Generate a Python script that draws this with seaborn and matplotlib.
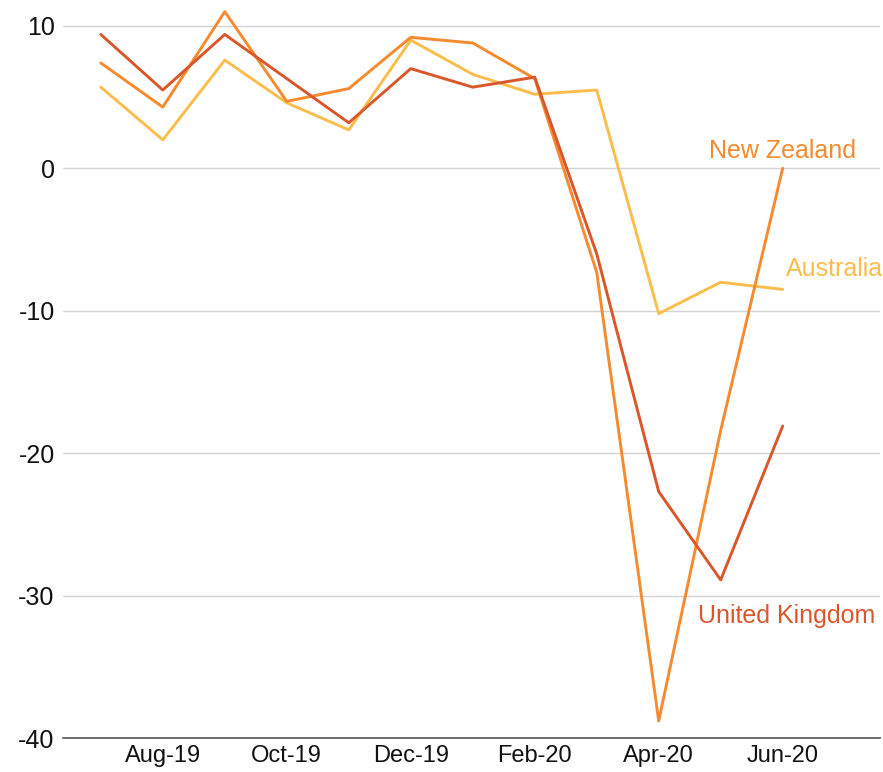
# Monthly change chart: UK, New Zealand, Australia (Jul-19 to Jun-20)
import pandas as pd
import seaborn as sb
import matplotlib.pyplot as plt

months = ['Jul-19', 'Aug-19', 'Sep-19', 'Oct-19', 'Nov-19', 'Dec-19',
          'Jan-20', 'Feb-20', 'Mar-20', 'Apr-20', 'May-20', 'Jun-20']

australia = [5.7, 2.0, 7.6, 4.6, 2.7, 9.0, 6.6, 5.2, 5.5, -10.2, -8.0, -8.5]
new_zealand = [7.4, 4.3, 11.0, 4.7, 5.6, 9.2, 8.8, 6.3, -7.3, -38.8, -18.4, 0.0]
united_kingdom = [9.4, 5.5, 9.4, 6.3, 3.2, 7.0, 5.7, 6.4, -6.0, -22.7, -28.9, -18.1]

tick_months = ['Aug-19', 'Oct-19', 'Dec-19', 'Feb-20', 'Apr-20', 'Jun-20']
y_ticks = [10, 0, -10, -20, -30, -40]

colors = {'Australia': '#fdbd4c', 'New Zealand': '#f58a2f', 'United Kingdom': '#d9572b'}

# Long-format table for seaborn
frames = []
for name, vals in [('Australia', australia), ('New Zealand', new_zealand),
                   ('United Kingdom', united_kingdom)]:
    frames.append(pd.DataFrame({'month': range(len(months)), 'value': vals, 'country': name}))
df = pd.concat(frames, ignore_index=True)

sb.set_style('white')
plt.rcParams['font.family'] = ['Liberation Sans', 'DejaVu Sans']

fig = plt.figure(figsize=(8.83, 7.72), dpi=100)
ax = fig.add_axes([63 / 883, 34 / 772, 817 / 883, 738 / 772])

sb.lineplot(data=df, x='month', y='value', hue='country', palette=colors,
            linewidth=2.1, legend=False, ax=ax)

ax.set_xlim(-0.61, 12.57)
ax.set_ylim(-40, 11.82)

fs = 18
ax.set_yticks(y_ticks)
ax.set_yticklabels([str(v) for v in y_ticks], fontsize=fs, color='#111111')
ax.set_xticks([months.index(m) for m in tick_months])
ax.set_xticklabels(tick_months, fontsize=17, color='#111111')

ax.grid(axis='y', color='#d3d3d3', linewidth=1.0)
ax.grid(axis='x', visible=False)
ax.set_axisbelow(True)
for side in ['top', 'right', 'left']:
    ax.spines[side].set_visible(False)
ax.spines['bottom'].set_color('#555555')
ax.spines['bottom'].set_linewidth(1.2)
ax.tick_params(axis='y', length=0, pad=6)
ax.tick_params(axis='x', length=5, color='#888888', width=0.8, pad=0)
ax.set_xlabel('')
ax.set_ylabel('')

# Direct labels at the line ends
last = len(months) - 1
ax.text(last, new_zealand[-1] + 1.2, 'New Zealand', color=colors['New Zealand'],
        fontsize=fs, ha='center', va='center')
ax.text(last + 0.05, australia[-1] + 1.4, 'Australia', color=colors['Australia'],
        fontsize=fs, ha='left', va='center')
ax.text(last + 0.07, united_kingdom[-1] - 13.3, 'United Kingdom', color=colors['United Kingdom'],
        fontsize=fs, ha='center', va='center')

fig.savefig('out.png', dpi=100)
